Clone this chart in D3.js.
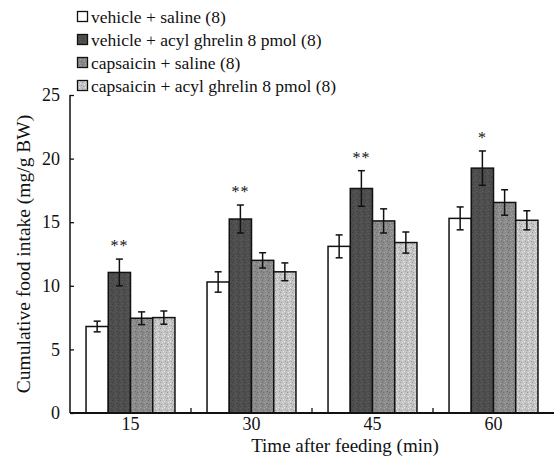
<!DOCTYPE html>
<html><head><meta charset="utf-8">
<script src="https://cdn.jsdelivr.net/npm/d3@7"></script>
<style>body{margin:0;background:#fff;} svg text{font-family:"Liberation Serif","Times New Roman",serif !important;fill:#111;}</style>
</head><body>
<svg id="c" width="554" height="459"></svg>
<script>
const categories = ["15","30","45","60"];
const seriesNames = ["vehicle + saline (8)","vehicle + acyl ghrelin 8 pmol (8)","capsaicin + saline (8)","capsaicin + acyl ghrelin 8 pmol (8)"];
const vehicleSaline = [6.8, 10.3, 13.1, 15.3];
const vehicleGhrelin = [11.05, 15.25, 17.65, 19.25];
const capsSaline = [7.45, 12.0, 15.1, 16.55];
const capsGhrelin = [7.5, 11.1, 13.4, 15.15];
const errVehicleSaline = [0.42, 0.8, 0.9, 0.9];
const errVehicleGhrelin = [1.05, 1.1, 1.4, 1.35];
const errCapsSaline = [0.5, 0.6, 0.95, 1.0];
const errCapsGhrelin = [0.52, 0.7, 0.83, 0.75];
const stars = ["**","**","**","*"];
const yTicks = [0,5,10,15,20,25];
const fills = ["#ffffff","#4e4e4e","#8a8a8a","#c4c4c4"];

const values = [vehicleSaline, vehicleGhrelin, capsSaline, capsGhrelin];
const errs = [errVehicleSaline, errVehicleGhrelin, errCapsSaline, errCapsGhrelin];
const FONT = "'Liberation Serif', 'Times New Roman', serif";

const svg = d3.select("#c");
const x0 = d3.scaleBand().domain(categories).range([70,554]).paddingInner(0.265).paddingOuter(0.1325);
const x1 = d3.scaleBand().domain(d3.range(4)).range([0, x0.bandwidth()]);
const y = d3.scaleLinear().domain([0,25]).range([413,95]);

// texture patterns
const defs = svg.append("defs");
[1,2,3].forEach(i=>{
  const p = defs.append("pattern").attr("id","p"+i).attr("patternUnits","userSpaceOnUse").attr("width",6).attr("height",6);
  p.append("rect").attr("width",6).attr("height",6).attr("fill",fills[i]);
  const dots = [[0,0],[3,1],[1,3],[4,4],[2,5],[5,2]];
  dots.forEach(([a,b],k)=>{
    p.append("rect").attr("x",a).attr("y",b).attr("width",1).attr("height",1)
     .attr("fill", k%2 ? d3.color(fills[i]).darker(0.6) : d3.color(fills[i]).brighter(0.5));
  });
});

const g = svg.append("g");
categories.forEach((c,ci)=>{
  values.forEach((vals,si)=>{
    const bx = x0(c)+x1(si), bw = x1.bandwidth();
    g.append("rect").attr("x",bx).attr("y",y(vals[ci])).attr("width",bw).attr("height",y(0)-y(vals[ci]))
      .attr("fill", si===0 ? "#fff" : "url(#p"+si+")").attr("stroke","#111").attr("stroke-width",1.5);
    const cx = bx+bw/2, e = errs[si][ci];
    g.append("line").attr("x1",cx).attr("x2",cx).attr("y1",y(vals[ci]+e)).attr("y2",y(vals[ci]-e)).attr("stroke","#111").attr("stroke-width",1.5);
    [vals[ci]+e, vals[ci]-e].forEach(v=>g.append("line").attr("x1",cx-3.5).attr("x2",cx+3.5).attr("y1",y(v)).attr("y2",y(v)).attr("stroke","#111").attr("stroke-width",1.5));
  });
  const sx = x0(c)+x1(1)+x1.bandwidth()/2;
  const top = vehicleGhrelin[ci]+errVehicleGhrelin[ci];
  g.append("text").attr("x",sx).attr("y",y(top)-8).attr("text-anchor","middle").style("font-size","16px").style("letter-spacing","1px").text(stars[ci]);
});

// axes
const yAxis = d3.axisLeft(y).tickValues(yTicks).tickSize(-4).tickPadding(10);
const ya = svg.append("g").attr("transform","translate(70,0)").call(yAxis);
ya.attr("font-family", FONT);
ya.select(".domain").attr("stroke","#111").attr("stroke-width",1.5).attr("d","M0,95V413");
ya.selectAll(".tick line").attr("stroke","#111").attr("stroke-width",1.3);
ya.selectAll(".tick text").style("font-size","18px").style("font-family",FONT).attr("fill","#111");

const xAxis = d3.axisBottom(x0).tickSize(0).tickPadding(4);
const xa = svg.append("g").attr("transform","translate(0,413)").call(xAxis);
xa.attr("font-family", FONT);
xa.select(".domain").attr("stroke","#111").attr("stroke-width",2).attr("d","M70,0H554");
xa.selectAll(".tick text").style("font-size","18px").style("font-family",FONT).attr("fill","#111");
// separator ticks
categories.slice(1).forEach(c=>{
  const bx = x0(c) - x0.step()*x0.paddingInner()/2;
  svg.append("line").attr("x1",bx).attr("x2",bx).attr("y1",413).attr("y2",408).attr("stroke","#111").attr("stroke-width",1.3);
});

svg.append("text").attr("x",345).attr("y",452).attr("text-anchor","middle").style("font-size","19px").text("Time after feeding (min)");
svg.append("text").attr("transform","translate(30,254) rotate(-90)").attr("text-anchor","middle").style("font-size","19.5px").text("Cumulative food intake (mg/g BW)");

// legend
const leg = svg.append("g");
seriesNames.forEach((n,i)=>{
  const ly = 17 + i*23;
  leg.append("rect").attr("x",77.5).attr("y",ly-5.5).attr("width",10).attr("height",10)
    .attr("fill", i===0 ? "#fff" : "url(#p"+i+")").attr("stroke","#111").attr("stroke-width",1.3);
  leg.append("text").attr("x",91).attr("y",ly+5.5).style("font-size","17.5px").text(n);
});
</script>
</body></html>
